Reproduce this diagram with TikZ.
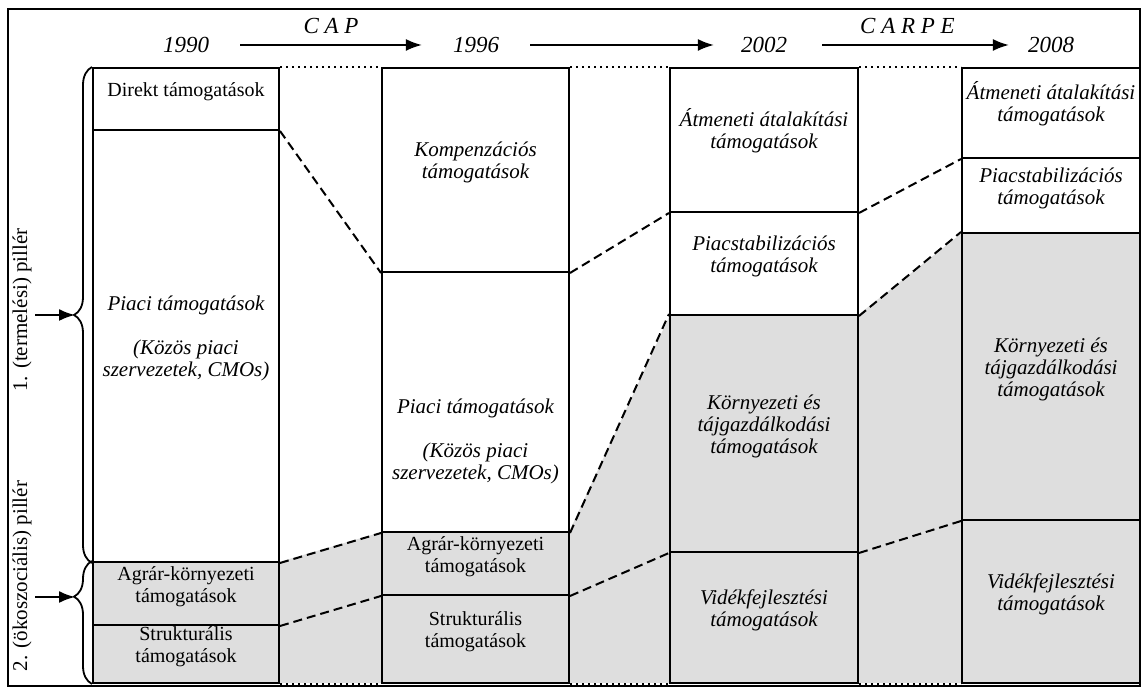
\documentclass[tikz,border=0pt]{standalone}
\usepackage{fontspec}
\setmainfont{Liberation Serif}
\usetikzlibrary{arrows.meta,decorations.pathreplacing,fit}
\tikzset{
  box/.style={draw,line width=1pt,inner sep=0pt,align=center},
  it/.style={font=\fontsize{10.5}{11}\selectfont\itshape},
  up/.style={font=\fontsize{10}{11}\selectfont},
  link/.style={line width=1pt,dash pattern=on 4.5pt off 2.5pt},
  gap/.style={line width=1pt,dotted},
  yr/.style={font=\fontsize{11.5}{12}\selectfont\itshape},
  tl/.style={-{Latex[length=8pt,width=6pt]},line width=1pt},
  pbrace/.style={decorate,decoration={brace,mirror,amplitude=9pt},line width=0.9pt}
}
\begin{document}
\begin{tikzpicture}[x=0.5pt,y=-0.5pt]
\useasboundingbox (0,0) rectangle (1147,688);
\draw[line width=1.3pt] (8,9) rectangle (1140,686);
% shaded part
\fill[black!13] (93,562) -- (279,562) -- (382,532) -- (569,532) -- (670,315) -- (858,315)
  -- (962,233) -- (1140,233) -- (1140,683) -- (93,683) -- cycle;

% 1990
\node[box,up,fit={(93,68) (279,130)}] (d1) {Direkt támogatások};
\node[box,it,fit={(93,130) (279,562)}] (p1) {Piaci támogatások\\[11pt](Közös piaci\\szervezetek, CMOs)};
\node[box,up,fit={(93,562) (279,625)}] (a1) {Agrár-környezeti\\támogatások};
\node[box,up,fit={(93,625) (279,683)}] (s1) {Strukturális\\támogatások};
% 1996
\node[box,it,fit={(382,68) (569,272)}] (k2) {Kompenzációs\\támogatások};
\node[box,fit={(382,272) (569,532)}] (p2) {};
\path (p2.center) ++(0,39) node[it,align=center] (p2t) {Piaci támogatások\\[11pt](Közös piaci\\szervezetek, CMOs)};
\node[box,up,fit={(382,532) (569,595)}] (a2) {Agrár-környezeti\\támogatások};
\node[box,up,fit={(382,595) (569,683)}] (s2) {Strukturális\\támogatások};
% 2002
\node[box,it,fit={(670,68) (858,212)}] (t3) {Átmeneti átalakítási\\támogatások};
\node[box,it,fit={(670,212) (858,315)}] (ps3) {Piacstabilizációs\\támogatások};
\node[box,it,fit={(670,315) (858,552)}] (k3) {Környezeti és\\tájgazdálkodási\\támogatások};
\node[box,it,fit={(670,552) (858,683)}] (v3) {Vidékfejlesztési\\támogatások};
% 2008
\node[box,it,fit={(962,68) (1140,158)}] (t4) {Átmeneti átalakítási\\támogatások};
\node[box,it,fit={(962,158) (1140,233)}] (ps4) {Piacstabilizációs\\támogatások};
\node[box,it,fit={(962,233) (1140,520)}] (k4) {Környezeti és\\tájgazdálkodási\\támogatások};
\node[box,it,fit={(962,520) (1140,683)}] (v4) {Vidékfejlesztési\\támogatások};

\draw[link] (d1.south east) -- (k2.south west);
\draw[link] (p1.south east) -- (p2.south west);
\draw[link] (a1.south east) -- (a2.south west);
\draw[link] (k2.south east) -- (t3.south west);
\draw[link] (p2.south east) -- (k3.north west);
\draw[link] (a2.south east) -- (k3.south west);
\draw[link] (t3.south east) -- (t4.south west);
\draw[link] (ps3.south east) -- (k4.north west);
\draw[link] (k3.south east) -- (k4.south west);

\draw[gap] (d1.north east) -- (k2.north west);
\draw[gap] (k2.north east) -- (t3.north west);
\draw[gap] (t3.north east) -- (t4.north west);
\draw[gap] (s1.south east) -- (s2.south west);
\draw[gap] (s2.south east) -- (v3.south west);
\draw[gap] (v3.south east) -- (v4.south west);

% years
\node[yr] (y1) at (186,45) {1990};
\node[yr] (y2) at (476,45) {1996};
\node[yr] (y3) at (764,45) {2002};
\node[yr] (y4) at (1051,45) {2008};
\draw[tl,shorten <=12pt,shorten >=12pt] (y1) -- node[yr,above=2pt] {C A P} (y2);
\draw[tl,shorten <=12pt,shorten >=10pt] (y2) -- (y3);
\draw[tl,shorten <=14pt,shorten >=6pt] (y3) -- node[yr,above=2pt] {C A R P E} (y4);

% pillars
\draw[pbrace] (d1.north west) -- (p1.south west);
\draw[pbrace,decoration={aspect=0.29}] (a1.north west) -- (s1.south west);
\node[up,rotate=90,font=\fontsize{10.5}{11}\selectfont] (pl1) at (22,310) {1. (termelési) pillér};
\node[up,rotate=90,font=\fontsize{10.5}{11}\selectfont] (pl2) at (22,576) {2. (ökoszociális) pillér};
\coordinate (ar1) at (35,315);
\coordinate (br1) at (75,315);
\coordinate (ar2) at (35,597);
\coordinate (br2) at (75,597);
\draw[tl] (ar1) -- (br1);
\draw[tl] (ar2) -- (br2);
\end{tikzpicture}
\end{document}
